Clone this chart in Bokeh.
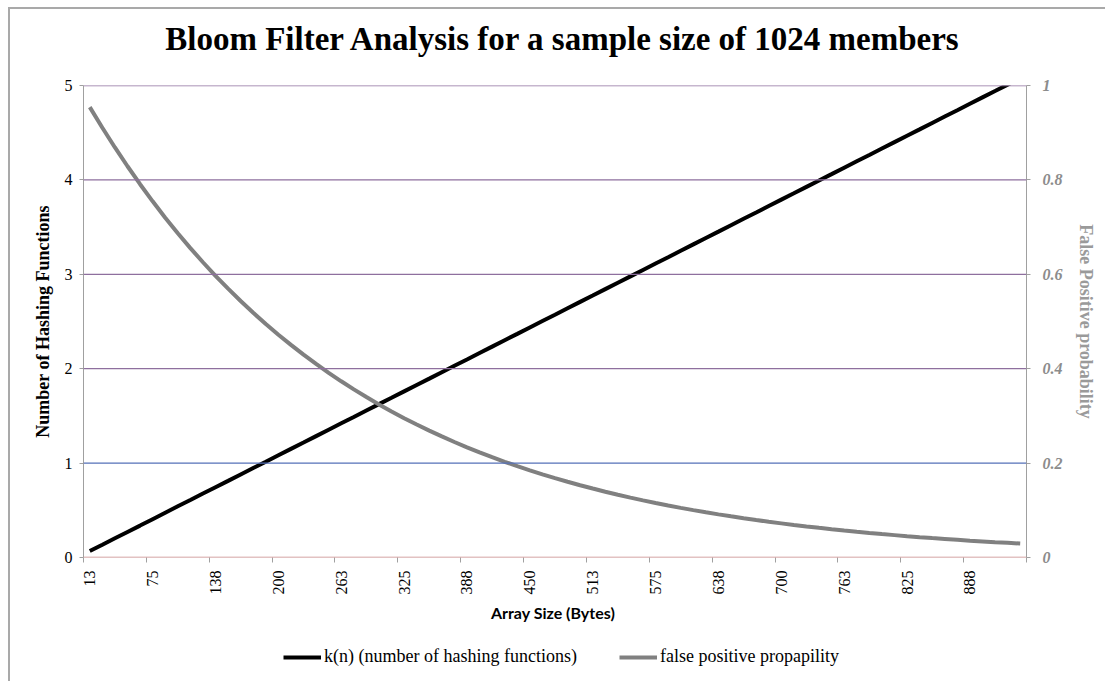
import math
from bokeh.plotting import figure
from bokeh.layouts import column
from bokeh.models import (Range1d, LinearAxis, FixedTicker, Span, Legend, LegendItem,
                          ColumnDataSource, Label)
from bokeh.embed import file_html
from bokeh.resources import INLINE

# ---------------- data ----------------
array_bytes = [13, 25, 38, 50, 63, 75, 88, 100, 113, 125,
               138, 150, 163, 175, 188, 200, 213, 225, 238, 250,
               263, 275, 288, 300, 313, 325, 338, 350, 363, 375,
               388, 400, 413, 425, 438, 450, 463, 475, 488, 500,
               513, 525, 538, 550, 563, 575, 588, 600, 613, 625,
               638, 650, 663, 675, 688, 700, 713, 725, 738, 750,
               763, 775, 788, 800, 813, 825, 838, 850, 863, 875,
               888, 900, 913, 925, 938]

k_hash = [0.068, 0.135, 0.203, 0.271, 0.338, 0.406, 0.474, 0.542, 0.609, 0.677,
          0.745, 0.812, 0.880, 0.948, 1.015, 1.083, 1.151, 1.218, 1.286, 1.354,
          1.422, 1.489, 1.557, 1.625, 1.692, 1.760, 1.828, 1.895, 1.963, 2.031,
          2.098, 2.166, 2.234, 2.302, 2.369, 2.437, 2.505, 2.572, 2.640, 2.708,
          2.775, 2.843, 2.911, 2.978, 3.046, 3.114, 3.181, 3.249, 3.317, 3.385,
          3.452, 3.520, 3.588, 3.655, 3.723, 3.791, 3.858, 3.926, 3.994, 4.061,
          4.129, 4.197, 4.264, 4.332, 4.400, 4.468, 4.535, 4.603, 4.671, 4.738,
          4.806, 4.874, 4.941, 5.009, 5.077]

false_pos = [0.9542, 0.9104, 0.8687, 0.8289, 0.7909, 0.7546, 0.7200, 0.6870, 0.6555, 0.6255,
             0.5968, 0.5695, 0.5434, 0.5185, 0.4947, 0.4720, 0.4504, 0.4297, 0.4100, 0.3912,
             0.3733, 0.3562, 0.3399, 0.3243, 0.3094, 0.2952, 0.2817, 0.2688, 0.2565, 0.2447,
             0.2335, 0.2228, 0.2126, 0.2028, 0.1935, 0.1847, 0.1762, 0.1681, 0.1604, 0.1531,
             0.1461, 0.1394, 0.1330, 0.1269, 0.1211, 0.1155, 0.1102, 0.1052, 0.1004, 0.0958,
             0.0914, 0.0872, 0.0832, 0.0794, 0.0757, 0.0723, 0.0689, 0.0658, 0.0628, 0.0599,
             0.0571, 0.0545, 0.0520, 0.0496, 0.0474, 0.0452, 0.0431, 0.0411, 0.0393, 0.0375,
             0.0357, 0.0341, 0.0325, 0.0311, 0.0296]

left_ticks = [0, 1, 2, 3, 4, 5]
right_ticks = [0, 0.2, 0.4, 0.6, 0.8, 1]
right_tick_labels = ["0", "0.2", "0.4", "0.6", "0.8", "1"]
label_every = 5

title_text = "Bloom Filter Analysis for a sample size of 1024 members"
series_names = ["k(n) (number of hashing functions)", "false positive propapility"]
series_colors = ["black", "#808080"]

# ---------------- helpers ----------------
n = len(array_bytes)
idx = list(range(1, n + 1))
src = ColumnDataSource(dict(x=idx, k=k_hash, fp=false_pos))

SERIF = "Liberation Serif"
BORDER = "2px solid #A9A9A9"


def strip(height, styles):
    f = figure(width=1097, height=height, output_backend="svg", toolbar_location=None,
               x_range=Range1d(-20, -10), y_range=Range1d(-20, -10),
               x_axis_location=None, y_axis_location=None,
               min_border_left=0, min_border_right=0, min_border_top=0, min_border_bottom=0)
    f.styles = styles
    f.outline_line_color = None
    f.xgrid.visible = False
    f.ygrid.visible = False
    f.background_fill_color = "white"
    f.border_fill_color = "white"
    return f


# ---------------- title strip ----------------
top = strip(68, {"margin-left": "8px", "margin-top": "7px",
                 "border-left": BORDER, "border-top": BORDER})
top.add_layout(Label(x=480, y=39, x_units="screen", y_units="screen", text=title_text,
                     text_align="center", text_baseline="alphabetic",
                     text_font=SERIF, text_font_size="33px", text_font_style="bold",
                     text_color="black"))

# ---------------- main chart ----------------
p = figure(width=1097, height=560, output_backend="svg", toolbar_location=None,
           x_range=Range1d(0.5, n + 0.5), y_range=Range1d(0, 5),
           min_border_left=73, min_border_right=81, min_border_top=10, min_border_bottom=78)
p.styles = {"margin-left": "8px", "border-left": BORDER}
p.extra_y_ranges = {"fp": Range1d(0, 1)}
p.outline_line_color = None
p.background_fill_color = "white"
p.border_fill_color = "white"

p.xgrid.visible = False
p.ygrid.visible = False

# horizontal gridlines (Excel style colours)
for yv in left_ticks:
    col = "#8E6F9E"
    if yv == 0:
        col = "#C58585"
    elif yv == 1:
        col = "#5470B8"
    p.add_layout(Span(location=yv, dimension="width", line_color=col, line_width=1.3))

# x axis
xa = p.xaxis[0]
major = [i for i in idx if (i - 1) % label_every == 0]
minor = [i - 0.5 for i in idx if (i - 1) % label_every == 0] + [n + 0.5]
xa.ticker = FixedTicker(ticks=major, minor_ticks=minor)
xa.major_label_overrides = {i: str(array_bytes[i - 1]) for i in major}
xa.major_label_orientation = math.pi / 2
xa.major_tick_out = 0
xa.major_tick_in = 0
xa.minor_tick_out = 5
xa.minor_tick_in = 0
xa.minor_tick_line_color = "#A0A0A0"
xa.axis_line_color = None
xa.major_label_text_font = SERIF
xa.major_label_text_font_size = "16px"
xa.major_label_text_color = "black"
xa.major_label_standoff = 8
xa.axis_label = "Array Size  (Bytes)"
xa.axis_label_text_font = "Lato"
xa.axis_label_text_font_style = "bold"
xa.axis_label_text_font_size = "16px"
xa.axis_label_text_color = "black"
xa.axis_label_standoff = 5

# left axis
ya = p.yaxis[0]
ya.ticker = FixedTicker(ticks=left_ticks)
ya.axis_line_color = "#A0A0A0"
ya.major_tick_line_color = "#A0A0A0"
ya.major_tick_out = 4
ya.major_tick_in = 0
ya.minor_tick_line_color = None
ya.major_label_text_font = SERIF
ya.major_label_text_font_size = "16px"
ya.major_label_text_color = "black"
ya.major_label_standoff = 7
ya.axis_label = "Number of Hashing Functions"
ya.axis_label_text_font = SERIF
ya.axis_label_text_font_style = "bold"
ya.axis_label_text_font_size = "18px"
ya.axis_label_text_color = "black"
ya.axis_label_standoff = 9

# right axis
ra = LinearAxis(y_range_name="fp", ticker=FixedTicker(ticks=right_ticks))
ra.major_label_overrides = {t: s for t, s in zip(right_ticks, right_tick_labels)}
ra.axis_line_color = "#A0A0A0"
ra.major_tick_line_color = "#A0A0A0"
ra.major_tick_out = 4
ra.major_tick_in = 0
ra.minor_tick_line_color = None
ra.major_label_text_font = SERIF
ra.major_label_text_font_size = "16px"
ra.major_label_text_font_style = "bold italic"
ra.major_label_text_color = "#8C8C8C"
ra.major_label_standoff = 12
ra.axis_label = "False Positive probability"
ra.axis_label_text_font = SERIF
ra.axis_label_text_font_style = "bold"
ra.axis_label_text_font_size = "18px"
ra.axis_label_text_color = "#9A9A9A"
ra.axis_label_standoff = 10
p.add_layout(ra, "right")

# series
p.line("x", "k", source=src, line_color=series_colors[0], line_width=4)
p.line("x", "fp", source=src, y_range_name="fp", line_color=series_colors[1], line_width=4)

# ---------------- legend strip ----------------
# ranges put the (real) data outside the strip's frame: only the legend shows
lg = strip(46, {"margin-left": "8px", "border-left": BORDER})
items = []
for name, col, key in zip(series_names, series_colors, ["k", "fp"]):
    rr = lg.line("x", key, source=src, line_color=col, line_width=4)
    items.append(LegendItem(label=name, renderers=[rr]))

legend = Legend(items=items, orientation="horizontal", location=(200, 14))
legend.border_line_color = None
legend.background_fill_alpha = 0
legend.label_text_font = SERIF
legend.label_text_font_size = "18px"
legend.label_text_color = "black"
legend.glyph_width = 38
legend.glyph_height = 16
legend.label_standoff = 3
legend.spacing = 42
legend.padding = 0
legend.margin = 0
lg.add_layout(legend, "center")

layout = column(top, p, lg, spacing=0)
open("out.html", "w").write(file_html(layout, INLINE))
